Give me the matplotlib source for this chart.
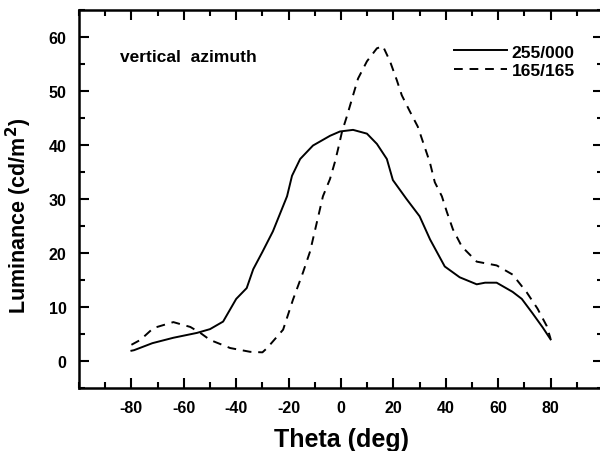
import numpy as np
import matplotlib
matplotlib.use("Agg")
import matplotlib.pyplot as plt
from matplotlib.ticker import MultipleLocator

plt.rcParams["font.family"] = ["Liberation Sans", "DejaVu Sans"]
plt.rcParams["font.weight"] = "bold"
plt.rcParams["axes.unicode_minus"] = False
plt.rcParams["mathtext.default"] = "bf"

# 255/000 (solid)
theta_a = [-80, -79, -72, -64, -55, -50, -45, -40, -36, -33.5, -30, -26, -20.6, -18.7,
           -15.6, -10.7, -4.2, -0.4, 4.6, 9.9, 13.7, 17.5, 19.8, 25, 30, 34, 39.6,
           45.3, 51.8, 55, 59.4, 65.5, 69, 73, 77, 80]
lum_a = [1.9, 2.0, 3.3, 4.3, 5.2, 5.9, 7.3, 11.5, 13.5, 17.0, 20.2, 24.0, 30.5, 34.3,
         37.4, 39.9, 41.7, 42.5, 42.8, 42.1, 40.2, 37.4, 33.5, 30.0, 26.8, 22.5, 17.5,
         15.5, 14.2, 14.5, 14.5, 12.8, 11.5, 8.9, 6.2, 4.0]

# 165/165 (dashed)
theta_b = [-80, -76.6, -71.6, -64, -57.5, -53.7, -50, -42.3, -34.7, -30, -28.2, -22.1,
           -18.3, -14.5, -11.8, -6.9, -4.2, -2.3, -1.1, 0.4, 2.3, 4.6, 6.5, 9.9, 13.7,
           16, 18.7, 21.3, 23.2, 26.3, 29.3, 33.9, 35.8, 38.5, 40.4, 42.7, 46.1, 51.8,
           59.4, 65.5, 70.9, 75, 78.5, 80]
lum_b = [3.0, 3.9, 6.1, 7.2, 6.3, 5.2, 3.9, 2.4, 1.7, 1.6, 2.4, 5.8, 11.4, 16.4, 20.3,
         30.5, 33.7, 36.9, 39.3, 42.5, 45.4, 49.2, 52.3, 55.5, 57.9, 58.3, 55.5, 52.0,
         49.2, 46.2, 43.4, 36.8, 33.1, 30.5, 27.6, 24.4, 21.2, 18.4, 17.7, 16.0, 12.7,
         9.7, 6.5, 4.1]

fig = plt.figure(figsize=(6.0, 4.52), dpi=100)
ax = fig.add_axes([0.1317, 0.1394, 0.8733, 0.8363])

ax.plot(theta_a, lum_a, color="black", lw=1.4, label="255/000")
ax.plot(theta_b, lum_b, color="black", lw=1.4, dashes=(4.5, 3.5), label="165/165")

ax.set_xlim(-100, 100)
ax.set_ylim(-5, 65)
ax.xaxis.set_minor_locator(MultipleLocator(10))
ax.yaxis.set_minor_locator(MultipleLocator(5))
ax.set_xticks([-80, -60, -40, -20, 0, 20, 40, 60, 80])
ax.set_yticks([0, 10, 20, 30, 40, 50, 60])

ax.tick_params(which="both", direction="in", top=True, right=True, width=1.5)
ax.tick_params(which="major", length=7.5, labelsize=11.5, pad=9)
ax.tick_params(which="minor", length=4)
for s in ax.spines.values():
    s.set_linewidth(1.8)
for lab in ax.get_xticklabels() + ax.get_yticklabels():
    lab.set_fontweight("bold")

ax.set_xlabel("Theta (deg)", fontsize=18, fontweight="bold", labelpad=8)
ax.set_ylabel("Luminance (cd/m$^2$)", fontsize=15.5, fontweight="bold")
ax.yaxis.set_label_coords(-0.086, 0.458)

ax.text(0.078, 0.878, "vertical  azimuth", transform=ax.transAxes, fontsize=12.5,
        fontweight="bold", va="center")

leg = ax.legend(loc="upper left", bbox_to_anchor=(0.715, 0.909), frameon=False,
                fontsize=12.5, handlelength=3.1, handletextpad=0.25, labelspacing=0.2,
                borderaxespad=0, borderpad=0)
for t in leg.get_texts():
    t.set_fontweight("bold")

fig.savefig("out.png", dpi=100)
